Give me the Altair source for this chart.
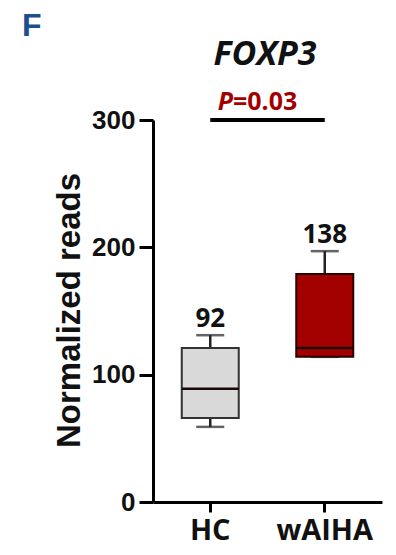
import altair as alt
import pandas as pd

groups = ["HC", "wAIHA"]
q1 = [66, 114]
median = [89, 121]
q3 = [121, 179]
wmin = [59, 114]
wmax = [131, 197]
means = [92, 138]
fills = ["#d9d9d9", "#a30000"]
strokes = ["#333333", "#2a0000"]
p_label = ["P", "=0.03"]
gene = "FOXP3"
panel = "F"
y_ticks = [0, 100, 200, 300]

df = pd.DataFrame({"g": groups, "q1": q1, "med": median, "q3": q3,
                   "lo": wmin, "hi": wmax, "mean": means})

xenc = alt.X("g:N", sort=groups, scale=alt.Scale(domain=groups, paddingInner=0, paddingOuter=0),
             axis=alt.Axis(title=None, labelFont="Open Sans", labelFontWeight="bold", labelFontSize=29,
                           labelColor="#111", labelAngle=0, labelPadding=4, tickSize=10,
                           tickWidth=3, tickColor="black", domainColor="black", domainWidth=3,
                           grid=False))
yscale = alt.Scale(domain=[0, 300], nice=False, zero=True)
yenc = alt.Y("q1:Q", scale=yscale,
             axis=alt.Axis(title="Normalized reads", values=y_ticks, titleFont="Liberation Sans",
                           titleFontSize=33, titleFontWeight="bold", titleColor="#111",
                           titleX=-74, titleY=190, titleBaseline="alphabetic", titleAngle=270,
                           labelFont="Liberation Sans", labelFontSize=26, labelFontWeight="bold",
                           labelColor="#111", labelPadding=4, tickSize=14, tickWidth=3,
                           tickColor="black", domainColor="black", domainWidth=3, grid=False))

color = alt.Color("g:N", scale=alt.Scale(domain=groups, range=fills), legend=None)
scolor = alt.Stroke("g:N", scale=alt.Scale(domain=groups, range=strokes), legend=None)

base = alt.Chart(df)

whisk_hi = base.mark_rule(strokeWidth=2.5, color="#222").encode(
    x=xenc, y=alt.Y("q3:Q", scale=yscale), y2="hi:Q")
whisk_lo = base.mark_rule(strokeWidth=2.5, color="#222").encode(
    x=xenc, y=alt.Y("lo:Q", scale=yscale), y2="q1:Q")
cap_hi = base.mark_tick(orient="horizontal", size=28, thickness=2.5, color="#222").encode(
    x=xenc, y=alt.Y("hi:Q", scale=yscale))
cap_lo = base.mark_tick(orient="horizontal", size=28, thickness=2.5, color="#222").encode(
    x=xenc, y=alt.Y("lo:Q", scale=yscale))
box = base.mark_bar(size=57, strokeWidth=2, opacity=1).encode(
    x=xenc, y=yenc, y2="q3:Q", color=color, stroke=scolor)
med = base.mark_tick(orient="horizontal", size=57, thickness=2.5, color="#1a0808", opacity=1).encode(
    x=xenc, y=alt.Y("med:Q", scale=yscale))
lab = base.mark_text(font="Open Sans", fontWeight="bold", fontSize=26, color="#111",
                     baseline="alphabetic", dy=-8).encode(
    x=xenc, y=alt.Y("hi:Q", scale=yscale), text="mean:Q")

sig = alt.Chart(pd.DataFrame({"a": [groups[0]], "b": [groups[1]], "v": [300]})).mark_rule(
    strokeWidth=4, color="black").encode(
    x=alt.X("a:N", scale=alt.Scale(domain=groups)), x2="b:N", y=alt.Y("v:Q", scale=yscale))

pP = alt.Chart(pd.DataFrame({"t": [p_label[0]]})).mark_text(
    font="Open Sans", fontWeight="bold", fontStyle="italic", fontSize=25, color="#a30000",
    align="right", baseline="alphabetic").encode(
    text="t:N", x=alt.value(80), y=alt.value(-10))
pV = alt.Chart(pd.DataFrame({"t": [p_label[1]]})).mark_text(
    font="Open Sans", fontWeight="bold", fontSize=25, color="#a30000",
    align="left", baseline="alphabetic").encode(
    text="t:N", x=alt.value(80), y=alt.value(-10))
ttl = alt.Chart(pd.DataFrame({"t": [gene]})).mark_text(
    font="Open Sans", fontWeight="bold", fontStyle="italic", fontSize=34, color="#111",
    align="center", baseline="alphabetic").encode(
    text="t:N", x=alt.value(112), y=alt.value(-55))
pan = alt.Chart(pd.DataFrame({"t": [panel]})).mark_text(
    font="Liberation Sans", fontWeight="bold", fontSize=32, color="#1f4e8c",
    align="left", baseline="alphabetic").encode(
    text="t:N", x=alt.value(-131), y=alt.value(-84))

chart = alt.layer(whisk_hi, whisk_lo, cap_hi, cap_lo, box, med, lab, sig, pP, pV, ttl, pan).properties(
    width=229, height=382,
    background="white",
    autosize=alt.AutoSizeParams(type="none"),
    padding={"left": 153, "top": 120, "right": 14, "bottom": 53},
).configure_view(strokeWidth=0, stroke="transparent")

chart.save("out.html", embed_options={"renderer": "svg", "actions": False})
